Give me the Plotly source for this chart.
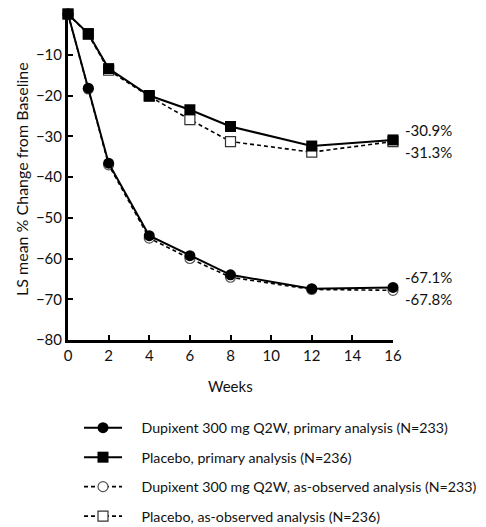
import plotly.graph_objects as go

weeks = [0, 1, 2, 4, 6, 8, 12, 16]
dup_primary = [0, -18.2, -36.6, -54.4, -59.3, -64.0, -67.4, -67.1]
pbo_primary = [0, -4.8, -13.4, -20.0, -23.5, -27.6, -32.4, -30.9]
dup_observed = [0, -18.4, -37.0, -55.0, -60.0, -64.6, -67.6, -67.8]
pbo_observed = [0, -5.0, -13.8, -20.2, -25.9, -31.3, -33.9, -31.3]

end_labels = ["-30.9%", "-31.3%", "-67.1%", "-67.8%"]
end_values = [-30.9, -31.3, -67.1, -67.8]
end_shifts = [10, -10, 10, -9]

names = [
    "Dupixent 300 mg Q2W, primary analysis (N=233)",
    "Placebo, primary analysis (N=236)",
    "Dupixent 300 mg Q2W, as-observed analysis (N=233)",
    "Placebo, as-observed analysis (N=236)",
]
PAD = "\u00a0\u00a0\u00a0\u00a0"

FONT = "Lato, 'Open Sans', sans-serif"
TXT = "#111"

fig = go.Figure()

# as-observed (drawn first, behind)
fig.add_trace(go.Scatter(
    x=weeks, y=dup_observed, name=PAD + names[2], mode="lines+markers",
    line=dict(color="black", width=1.6, dash="4px,3px"),
    marker=dict(symbol="circle", size=10, color="white", line=dict(color="#555", width=1.2)),
    legendrank=3, legendgroup="c", cliponaxis=False,
))
fig.add_trace(go.Scatter(
    x=weeks, y=pbo_observed, name=PAD + names[3], mode="lines+markers",
    line=dict(color="black", width=1.6, dash="4px,3px"),
    marker=dict(symbol="square", size=10, color="white", line=dict(color="#333", width=1.2)),
    legendrank=4, legendgroup="d", cliponaxis=False,
))
# primary
fig.add_trace(go.Scatter(
    x=weeks, y=dup_primary, name=PAD + names[0], mode="lines+markers",
    line=dict(color="black", width=2),
    marker=dict(symbol="circle", size=11, color="black"),
    legendrank=1, legendgroup="a", cliponaxis=False,
))
fig.add_trace(go.Scatter(
    x=weeks, y=pbo_primary, name=PAD + names[1], mode="lines+markers",
    line=dict(color="black", width=2),
    marker=dict(symbol="square", size=11, color="black"),
    legendrank=2, legendgroup="b", cliponaxis=False,
))

for txt, v, s in zip(end_labels, end_values, end_shifts):
    fig.add_annotation(x=16, y=v, text=txt, showarrow=False, xanchor="left",
                       xshift=10, yshift=s, font=dict(family=FONT, size=15, color=TXT))

# axis titles as annotations
fig.add_annotation(xref="paper", yref="paper", x=-0.1415, y=0.494,
                   text="LS mean % Change from Baseline", textangle=-90,
                   showarrow=False, xanchor="center", yanchor="middle",
                   font=dict(family=FONT, size=16, color=TXT))
fig.add_annotation(xref="paper", yref="paper", x=0.5, y=-0.14,
                   text="Weeks", showarrow=False, xanchor="center", yanchor="middle",
                   font=dict(family=FONT, size=15, color=TXT))

fig.update_layout(
    width=486, height=527,
    margin=dict(l=60, r=101, t=6, b=195, autoexpand=False),
    paper_bgcolor="white", plot_bgcolor="white",
    font=dict(family=FONT, size=15, color=TXT),
    showlegend=True,
    legend=dict(
        xref="container", yref="container",
        x=71 / 486, y=1 - 404 / 527, xanchor="left", yanchor="top",
        traceorder="grouped", tracegroupgap=8,
        font=dict(family=FONT, size=14.2, color=TXT),
        itemwidth=38, bgcolor="rgba(0,0,0,0)",
    ),
    xaxis=dict(
        range=[0, 16], tickmode="array", tickvals=list(range(0, 17, 2)),
        showline=True, linecolor="black", linewidth=3, ticks="inside",
        ticklen=5, tickwidth=2, tickcolor="black", showgrid=False, zeroline=False,
        tickfont=dict(size=15),
    ),
    yaxis=dict(
        range=[-80, 0], tickmode="array", tickvals=list(range(-80, 1, 10)),
        showline=True, linecolor="black", linewidth=3, ticks="inside",
        ticklen=5, tickwidth=2, tickcolor="black", showgrid=False, zeroline=False,
        tickfont=dict(size=15),
    ),
)

fig.write_html("out.html")
